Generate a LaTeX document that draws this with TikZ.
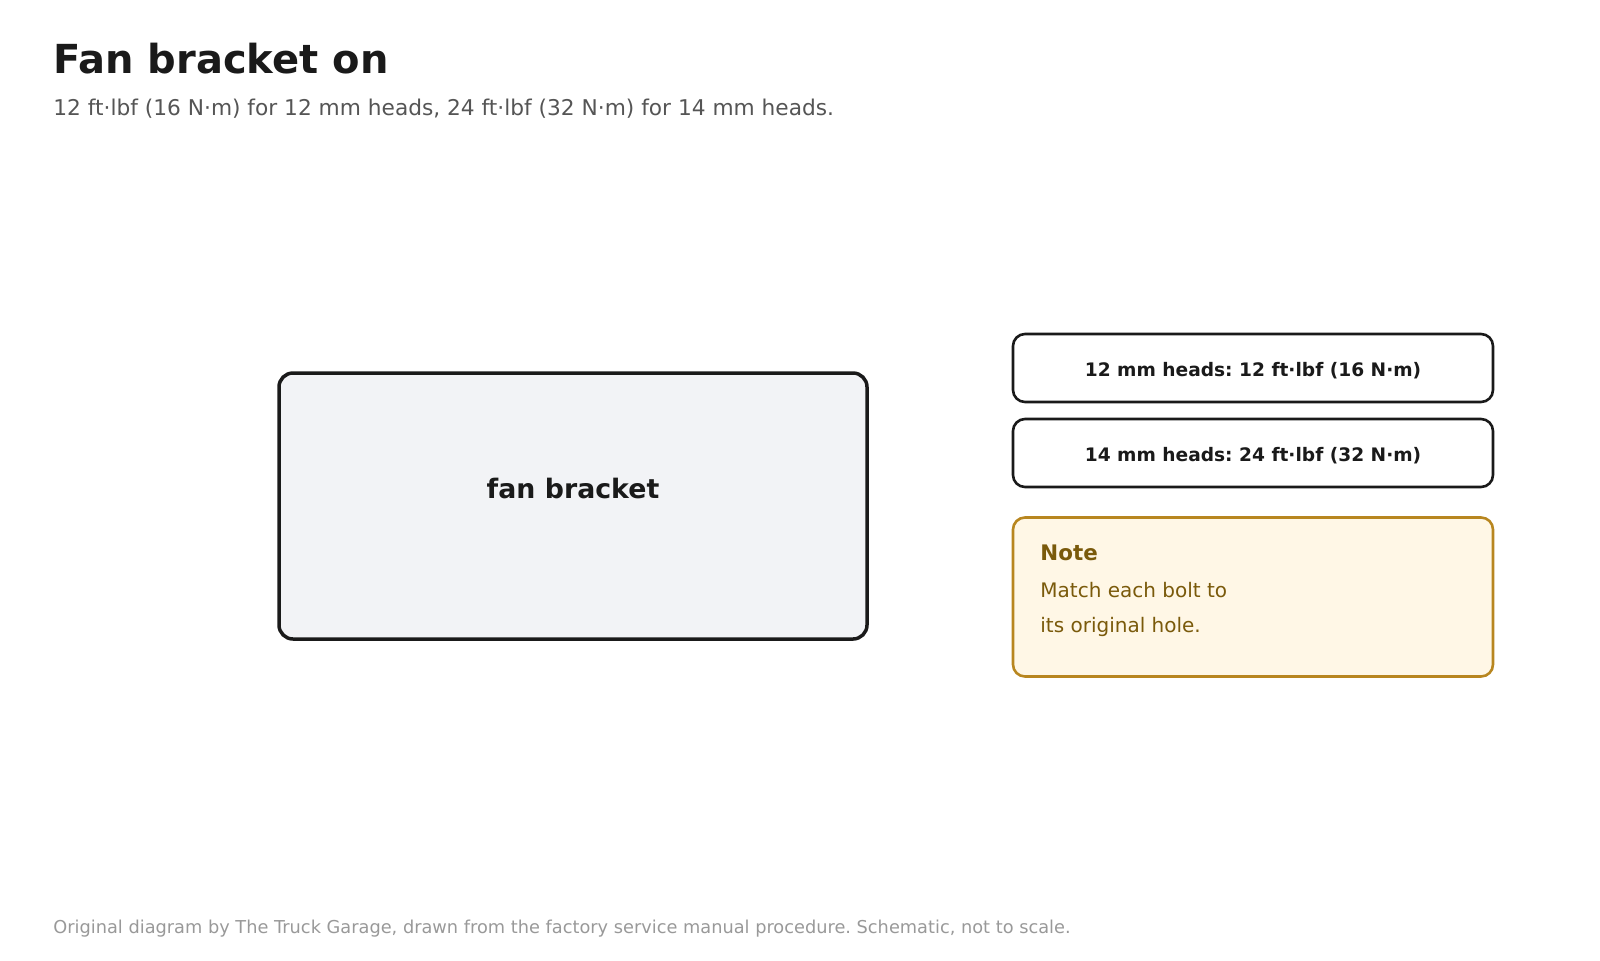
\documentclass[tikz,border=0pt]{standalone}
\usepackage{fontspec}
\setmainfont{DejaVu Sans}
\usetikzlibrary{positioning}
\definecolor{ink}{HTML}{1A1A1A}
\definecolor{subgray}{HTML}{555555}
\definecolor{footgray}{HTML}{999999}
\definecolor{partfill}{HTML}{F2F3F6}
\definecolor{notefill}{HTML}{FFF7E6}
\definecolor{noteline}{HTML}{B8861F}
\definecolor{notetext}{HTML}{7A5A0B}
\tikzset{part/.style={draw=ink,fill=partfill,line width=1.75pt,rounded corners=7pt,
                      minimum width=294pt,minimum height=133pt},
         spec/.style={draw=ink,fill=white,line width=1.3pt,rounded corners=6pt,
                      minimum width=240pt,minimum height=34pt,text=ink},
         notebox/.style={draw=noteline,fill=notefill,line width=1.3pt,rounded corners=6pt,
                      minimum width=240pt,minimum height=79.5pt},
         }
\begin{document}
\frenchspacing
\begin{tikzpicture}[x=0.5pt,y=-0.5pt,inner sep=0pt]
\useasboundingbox (0,0) rectangle (1600,960);
% heading
\node[anchor=base west,text=ink,font=\fontsize{20}{24}\selectfont\bfseries] (title) at (53,73) {Fan bracket on};
\node[anchor=base west,text=subgray,font=\fontsize{10.85}{13}\selectfont] (subtitle) at (53,115)
    {12 ft·lbf (16 N·m) for 12 mm heads, 24 ft·lbf (32 N·m) for 14 mm heads.};
% part
\node[part] (bracket) at (573,506) {};
\node[anchor=base,text=ink,font=\fontsize{13.4}{16}\selectfont\bfseries] (bracketlabel) at (573,498) {fan bracket};
% torque specs
\node[spec] (spec12) at (1253,368) {};
\node[spec] (spec14) at (1253,453) {};
\node[anchor=base,text=ink,font=\fontsize{9.3}{11}\selectfont\bfseries] (spec12label) at (1253,376) {12 mm heads: 12 ft·lbf (16 N·m)};
\node[anchor=base,text=ink,font=\fontsize{9.3}{11}\selectfont\bfseries] (spec14label) at (1253,461) {14 mm heads: 24 ft·lbf (32 N·m)};
% note
\node[notebox] (note) at (1253,597) {};
\node[anchor=base west,text=notetext,font=\fontsize{10.7}{12}\selectfont\bfseries] (notetitle) at (1040,560) {Note};
\node[anchor=base west,text=notetext,font=\fontsize{10}{12}\selectfont] (noteline1) at (1040,597) {Match each bolt to};
\node[anchor=base west,text=notetext,font=\fontsize{10}{12}\selectfont] (noteline2) at (1040,632) {its original hole.};
% footer
\node[anchor=base west,text=footgray,font=\fontsize{8.88}{10}\selectfont] (footer) at (53,933)
    {Original diagram by The Truck Garage, drawn from the factory service manual procedure. Schematic, not to scale.};
\end{tikzpicture}
\end{document}
